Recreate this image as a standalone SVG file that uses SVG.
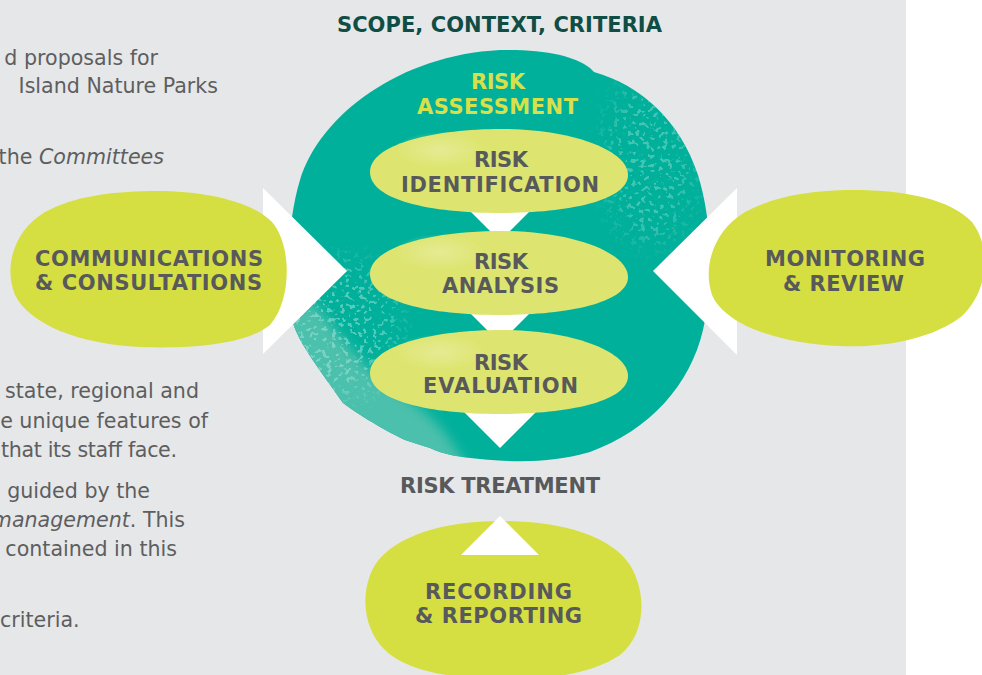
<svg xmlns="http://www.w3.org/2000/svg" width="982" height="675" viewBox="0 0 982 675">
  <style>
    .body { font-family: "DejaVu Sans", "Liberation Sans", sans-serif; font-size: 20.6px; fill: #5d5e60; text-anchor: end; }
    .lbl { font-family: "DejaVu Sans", "Liberation Sans", sans-serif; font-size: 21px; font-weight: bold; fill: #58595b; text-anchor: middle; }
    .title { fill: #0f4d45; }
    .assess { fill: #d7e04a; }
    .blob { fill: #d5df42; }
    .step { fill: #dde570; }
    .arrow { fill: #ffffff; }
  </style>
  <defs>
    <!-- inner step shape, centred on 0,0 -->
    <path id="stepShape" d="M -130 1 C -130 -26 -70 -41 -5 -42 C 70 -43 128 -21 128 4 C 128 29 70 42 0 42 C -70 42 -130 29 -130 1 Z"/>
    <clipPath id="tealClip">
      <path d="M 500 50 C 545 49 575 56 590 68 L 594 72 C 640 85 680 120 698 175 C 712 220 714 280 703 330 C 690 385 650 430 590 452 C 555 462 520 463 480 459 C 460 457 445 455 430 448 C 420 445 412 442 405 440 C 380 428 355 412 343 403 C 320 370 300 345 293 323 C 286 270 288 220 300 180 C 320 115 400 55 500 50 Z"/>
    </clipPath>
    <!-- fine mottled print texture, faded out towards the edges of the source shape -->
    <filter id="speckle" x="-10%" y="-10%" width="120%" height="120%">
      <feGaussianBlur in="SourceAlpha" stdDeviation="14" result="fade"/>
      <feTurbulence type="fractalNoise" baseFrequency="0.22" numOctaves="2" seed="11" result="n"/>
      <feColorMatrix in="n" type="matrix" values="0 0 0 0 0.40  0 0 0 0 0.80  0 0 0 0 0.72  12 0 0 0 -6.9" result="dots"/>
      <feComposite in="dots" in2="fade" operator="in"/>
    </filter>
    <filter id="soft" x="-20%" y="-20%" width="140%" height="140%">
      <feGaussianBlur stdDeviation="6"/>
    </filter>
    <radialGradient id="stepHighlight" cx="0.5" cy="0.5" r="0.5">
      <stop offset="0" stop-color="#e8ec9c" stop-opacity="0.8"/>
      <stop offset="1" stop-color="#e8ec9c" stop-opacity="0"/>
    </radialGradient>
  </defs>

  <!-- page panel -->
  <rect x="0" y="0" width="982" height="675" fill="#ffffff"/>
  <rect x="0" y="0" width="906" height="675" fill="#e6e7e8"/>

  <!-- body copy running beside the figure -->
  <g id="body-text">
    <text class="body" x="158" y="65">d proposals for</text>
    <text class="body" x="218" y="93">Island Nature Parks</text>
    <text class="body" x="164" y="164">the <tspan font-style="italic">Committees</tspan></text>
    <text class="body" x="199" y="398">state, regional and</text>
    <text class="body" x="208" y="428">e unique features of</text>
    <text class="body" x="1" y="457" style="text-anchor:start" textLength="176">that its staff face.</text>
    <text class="body" x="150" y="498">guided by the</text>
    <text class="body" x="185" y="527"><tspan font-style="italic">management</tspan>. This</text>
    <text class="body" x="177" y="556">contained in this</text>
    <text class="body" x="0" y="627" style="text-anchor:start">criteria.</text>
  </g>

  <text id="scope" class="lbl title" x="499.5" y="32" textLength="325">SCOPE, CONTEXT, CRITERIA</text>

  <!-- risk assessment body -->
  <g id="risk-assessment">
    <path fill="#00b09b" d="M 500 50 C 545 49 575 56 590 68 L 594 72 C 640 85 680 120 698 175 C 712 220 714 280 703 330 C 690 385 650 430 590 452 C 555 462 520 463 480 459 C 460 457 445 455 430 448 C 420 445 412 442 405 440 C 380 428 355 412 343 403 C 320 370 300 345 293 323 C 286 270 288 220 300 180 C 320 115 400 55 500 50 Z"/>
    <g clip-path="url(#tealClip)">
      <!-- worn band along the lower-left rim -->
      <path fill="#4cc0ac" filter="url(#soft)" d="M 280 320 L 310 300 C 330 320 345 345 370 370 C 400 395 430 410 450 440 L 470 470 L 280 470 Z"/>
      <ellipse cx="340" cy="330" rx="60" ry="70" fill="#000" filter="url(#speckle)" opacity="0.5"/>
      <ellipse cx="650" cy="160" rx="45" ry="85" fill="#000" filter="url(#speckle)" opacity="0.4"/>
    </g>
    <text class="lbl assess" x="498" y="89" textLength="54">RISK</text>
    <text class="lbl assess" x="497.5" y="114" textLength="161">ASSESSMENT</text>
  </g>

  <!-- connectors -->
  <g id="connectors">
    <polygon class="arrow" points="263,188 347,271 263,354"/>
    <polygon class="arrow" points="737,188 653,271 737,355"/>
    <polygon class="arrow" points="464,205 536,205 500,241"/>
    <polygon class="arrow" points="462,305 538,305 500,343"/>
    <polygon class="arrow" points="452,400 548,400 500,448"/>
  </g>

  <g id="risk-identification">
    <use href="#stepShape" class="step" transform="translate(500 171)"/>
    <ellipse cx="440" cy="150" rx="45" ry="18" fill="url(#stepHighlight)"/>
    <text class="lbl" x="501" y="167" textLength="54">RISK</text>
    <text class="lbl" x="500" y="192" textLength="198">IDENTIFICATION</text>
  </g>

  <g id="risk-analysis">
    <use href="#stepShape" class="step" transform="translate(500 273)"/>
    <ellipse cx="440" cy="252" rx="45" ry="18" fill="url(#stepHighlight)"/>
    <text class="lbl" x="501" y="269" textLength="54">RISK</text>
    <text class="lbl" x="500.5" y="293" textLength="117">ANALYSIS</text>
  </g>

  <g id="risk-evaluation">
    <use href="#stepShape" class="step" transform="translate(500 372)"/>
    <ellipse cx="440" cy="352" rx="45" ry="18" fill="url(#stepHighlight)"/>
    <text class="lbl" x="501" y="370" textLength="54">RISK</text>
    <text class="lbl" x="500.5" y="393" textLength="155">EVALUATION</text>
  </g>

  <g id="communications">
    <path class="blob" d="M 150 191 C 200 190 250 200 272 222 C 292 245 292 300 270 325 C 245 345 190 349 140 347 C 80 344 30 325 15 295 C 3 265 15 230 45 212 C 75 196 110 192 150 191 Z"/>
    <text class="lbl" x="149" y="266" textLength="228">COMMUNICATIONS</text>
    <text class="lbl" x="148.5" y="290" textLength="227">&amp; CONSULTATIONS</text>
  </g>

  <g id="monitoring">
    <path class="blob" d="M 845 190 C 900 189 950 198 972 222 C 992 248 988 292 962 316 C 932 340 880 348 840 346 C 780 344 725 325 712 295 C 702 265 715 230 745 212 C 775 196 810 191 845 190 Z"/>
    <text class="lbl" x="845" y="266" textLength="160">MONITORING</text>
    <text class="lbl" x="843.5" y="291" textLength="121">&amp; REVIEW</text>
  </g>

  <text id="risk-treatment" class="lbl" x="500" y="493" textLength="200">RISK TREATMENT</text>

  <g id="recording">
    <path class="blob" d="M 500 521 C 560 521 610 535 630 565 C 648 595 645 635 620 655 C 590 675 545 680 500 679 C 450 679 405 670 385 650 C 362 628 360 590 375 565 C 395 535 445 521 500 521 Z"/>
    <polygon class="arrow" points="461,555 539,555 500,516"/>
    <text class="lbl" x="498.5" y="599" textLength="147">RECORDING</text>
    <text class="lbl" x="498.5" y="623" textLength="167">&amp; REPORTING</text>
  </g>
</svg>
